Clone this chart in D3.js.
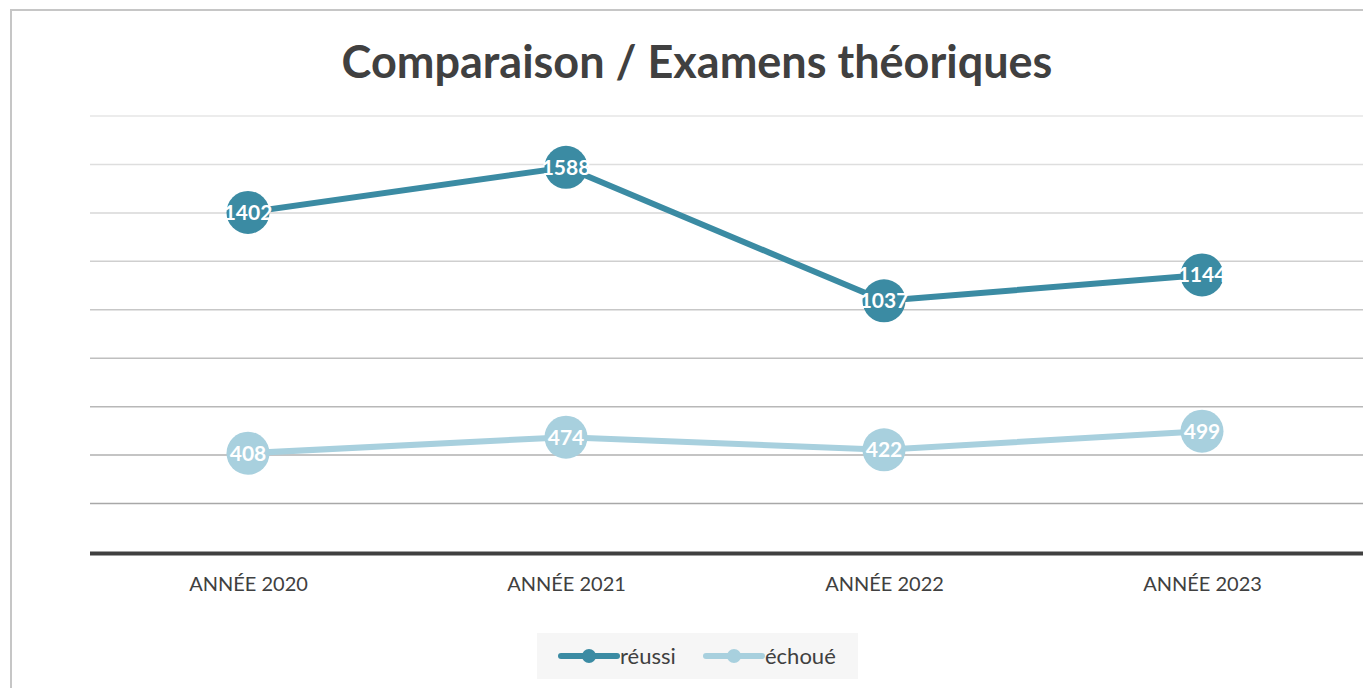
<!DOCTYPE html>
<html>
<head>
<meta charset="utf-8">
<script src="https://cdn.jsdelivr.net/npm/d3@7"></script>
<style>
  body { margin: 0; background: #fff; }
  svg { display: block; font-family: Lato, "Open Sans", sans-serif; }
</style>
</head>
<body>
<svg id="chart"></svg>
<script>
// data
let categories = ['ANNÉE 2020', 'ANNÉE 2021', 'ANNÉE 2022', 'ANNÉE 2023']
let reussi = [1402, 1588, 1037, 1144]
let echoue = [408, 474, 422, 499]
let seriesNames = ['réussi', 'échoué']
let yTicks = [200, 400, 600, 800, 1000, 1200, 1400, 1600, 1800]

let width = 1363
let height = 688
let plotLeft = 89
let plotRight = 1361
let plotTop = 116
let plotBottom = 552

let colors = ['#3b8ba3', '#a8d0de']

let svg = d3.select('#chart')
    .attr('width', width)
    .attr('height', height)

// chart border
svg.append('rect')
    .attr('x', 11).attr('y', 10)
    .attr('width', width).attr('height', height)
    .attr('fill', 'none')
    .attr('stroke', '#c6c6c6')
    .attr('stroke-width', 2)

let xScale = d3.scalePoint()
    .domain(categories)
    .range([plotLeft, plotRight])
    .padding(0.5)

let yScale = d3.scaleLinear()
    .domain([0, 1800])
    .range([plotBottom, plotTop])

// gridlines, lighter towards the top
let gridColor = d3.scaleLinear()
    .domain([200, 1800])
    .range(['#a8a8a8', '#e6e6e6'])

svg.append('g')
    .selectAll('line')
    .data(yTicks)
    .enter()
    .append('line')
    .attr('x1', plotLeft + 1)
    .attr('x2', width)
    .attr('y1', d => yScale(d))
    .attr('y2', d => yScale(d))
    .attr('stroke', d => gridColor(d))
    .attr('stroke-width', 1.5)

// x axis
let xAxis = d3.axisBottom(xScale).tickSize(0).tickPadding(23)
let gx = svg.append('g')
    .attr('transform', 'translate(0,' + (plotBottom + 1.5) + ')')
    .call(xAxis)
gx.select('.domain')
    .attr('d', 'M' + (plotLeft + 1) + ',0H' + width)
    .attr('stroke', '#404040')
    .attr('stroke-width', 4)
gx.selectAll('text')
    .attr('fill', '#404040')
    .style('font-size', '20px')
    .style('font-family', 'Lato, sans-serif')

// title
svg.append('text')
    .attr('x', 697)
    .attr('y', 78)
    .attr('text-anchor', 'middle')
    .attr('fill', '#404040')
    .style('font-size', '45px')
    .style('font-weight', 'bold')
    .text('Comparaison / Examens théoriques')

let line = d3.line()
    .x((d, i) => xScale(categories[i]))
    .y(d => yScale(d))

let drawSeries = (values, color) => {
    let g = svg.append('g')
    g.append('path')
        .datum(values)
        .attr('d', line)
        .attr('fill', 'none')
        .attr('stroke', color)
        .attr('stroke-width', 6)
        .attr('stroke-linejoin', 'round')

    g.selectAll('circle')
        .data(values)
        .enter()
        .append('circle')
        .attr('cx', (d, i) => xScale(categories[i]))
        .attr('cy', d => yScale(d))
        .attr('r', 21.5)
        .attr('fill', color)

    g.selectAll('text')
        .data(values)
        .enter()
        .append('text')
        .attr('x', (d, i) => xScale(categories[i]))
        .attr('y', d => yScale(d))
        .attr('dy', '0.36em')
        .attr('text-anchor', 'middle')
        .attr('fill', '#fff')
        .style('font-size', '21px')
        .style('font-weight', 'bold')
        .text(d => d)
}

drawSeries(reussi, colors[0])
drawSeries(echoue, colors[1])

// legend
let legend = svg.append('g')
legend.append('rect')
    .attr('x', 537).attr('y', 633)
    .attr('width', 321).attr('height', 46)
    .attr('fill', '#f6f6f6')

let legendX = [561, 706]
seriesNames.forEach((name, i) => {
    let g = legend.append('g').attr('transform', 'translate(' + legendX[i] + ',656)')
    g.append('line')
        .attr('x1', 0).attr('x2', 56)
        .attr('stroke', colors[i])
        .attr('stroke-width', 6)
        .attr('stroke-linecap', 'round')
    g.append('circle')
        .attr('cx', 28).attr('r', 7)
        .attr('fill', colors[i])
    g.append('text')
        .attr('x', 59)
        .attr('dy', '0.36em')
        .attr('fill', '#404040')
        .style('font-size', '22px')
        .text(name)
})
</script>
</body>
</html>
